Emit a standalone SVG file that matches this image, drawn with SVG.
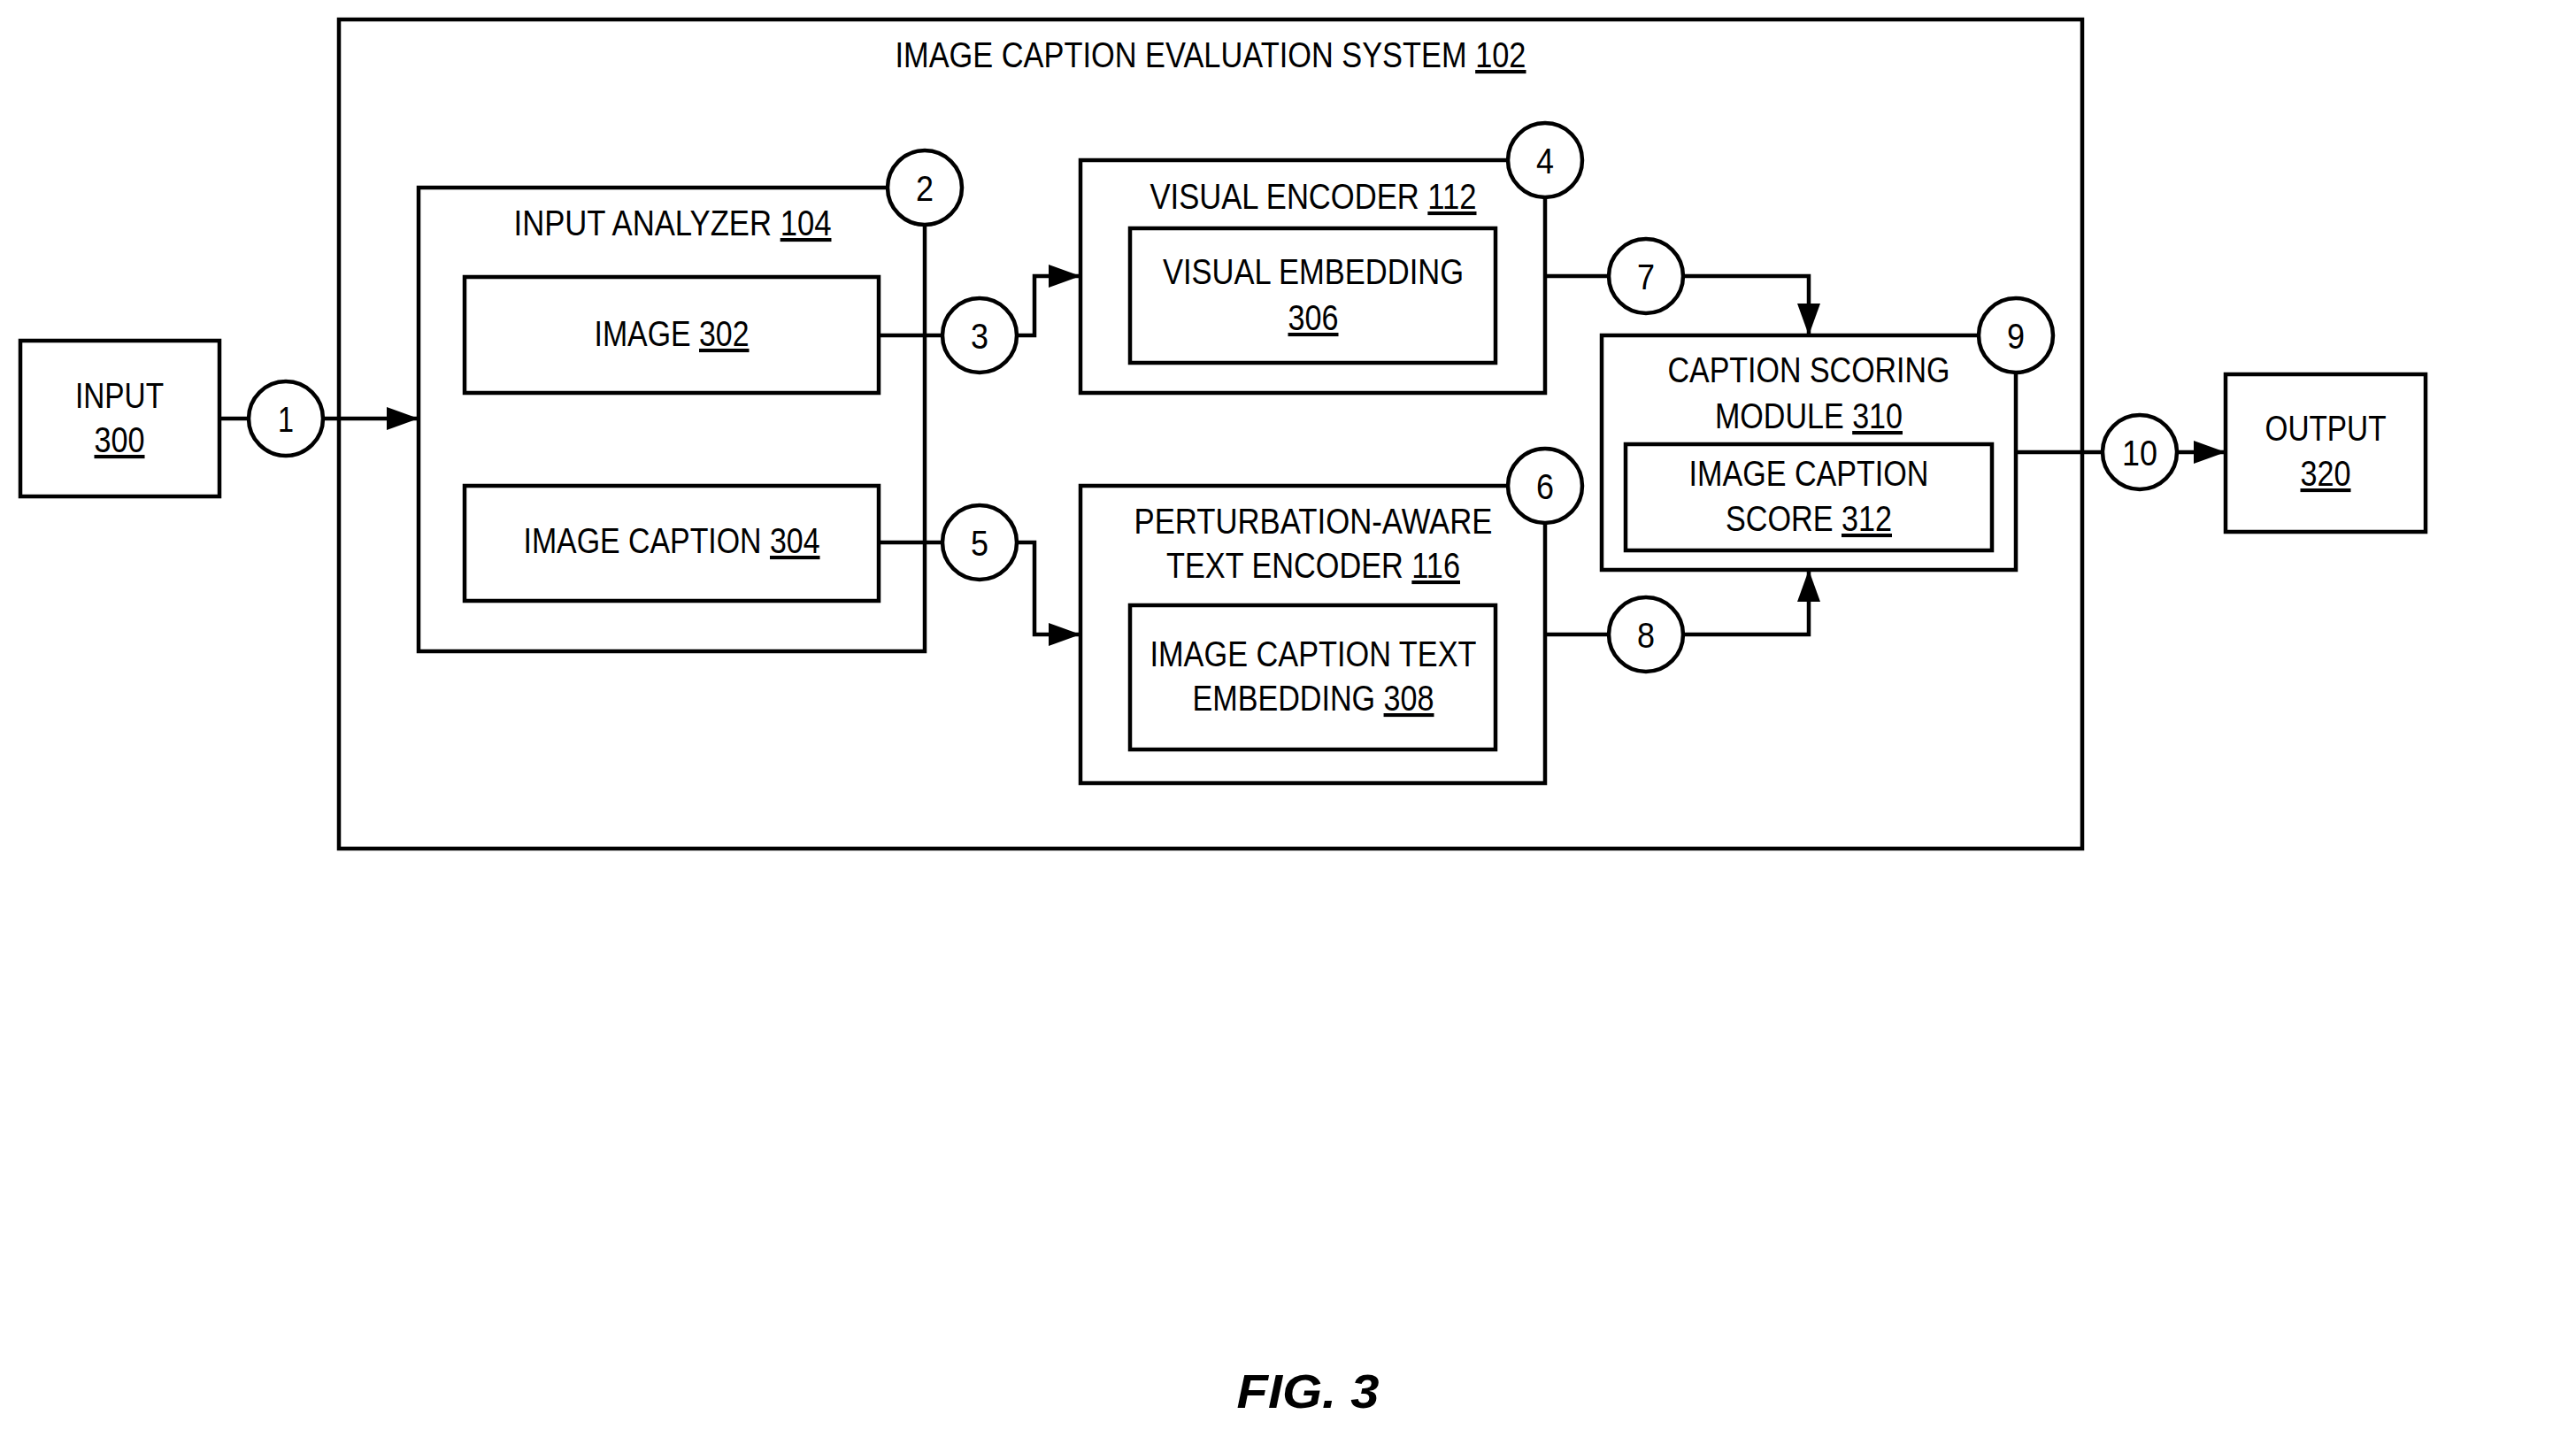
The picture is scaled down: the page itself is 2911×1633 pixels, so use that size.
<svg xmlns="http://www.w3.org/2000/svg" width="2911" height="1633" viewBox="0 0 2911 1633">
<style>
rect,circle{fill:#fff;stroke:#000;stroke-width:4.5}
path{fill:none;stroke:#000;stroke-width:4.5}
text{font-family:"Liberation Sans",Arial,sans-serif;font-size:41px;fill:#000;text-anchor:middle}
.u{text-decoration:underline}
</style>
<defs>
<marker id="ar" markerUnits="userSpaceOnUse" markerWidth="40" markerHeight="30" refX="36" refY="13" orient="auto">
<path d="M0,0 L36,13 L0,26 Z" style="fill:#000;stroke:none"/>
</marker>
</defs>
<g id="system"><rect x="383" y="22" width="1970" height="937"/>
<text x="1368" y="76" textLength="713" lengthAdjust="spacingAndGlyphs">IMAGE CAPTION EVALUATION SYSTEM <tspan class="u">102</tspan></text></g>
<g id="input"><rect x="23" y="385" width="225" height="176"/>
<text x="135" y="461" textLength="100" lengthAdjust="spacingAndGlyphs">INPUT</text>
<text x="135" y="511" textLength="57" lengthAdjust="spacingAndGlyphs" class="u">300</text></g>
<g id="analyzer"><rect x="473" y="212" width="572" height="524"/>
<text x="760" y="266" textLength="359" lengthAdjust="spacingAndGlyphs">INPUT ANALYZER <tspan class="u">104</tspan></text></g>
<g id="image"><rect x="525" y="313" width="468" height="131"/>
<text x="759" y="391" textLength="175" lengthAdjust="spacingAndGlyphs">IMAGE <tspan class="u">302</tspan></text></g>
<g id="caption"><rect x="525" y="549" width="468" height="130"/>
<text x="759" y="625" textLength="335" lengthAdjust="spacingAndGlyphs">IMAGE CAPTION <tspan class="u">304</tspan></text></g>
<g id="visual"><rect x="1221" y="181" width="525" height="263"/>
<text x="1484" y="236" textLength="369" lengthAdjust="spacingAndGlyphs">VISUAL ENCODER <tspan class="u">112</tspan></text></g>
<g id="vemb"><rect x="1277" y="258" width="413" height="152"/>
<text x="1484" y="321" textLength="340" lengthAdjust="spacingAndGlyphs">VISUAL EMBEDDING</text>
<text x="1484" y="373" textLength="57" lengthAdjust="spacingAndGlyphs" class="u">306</text></g>
<g id="textenc"><rect x="1221" y="549" width="525" height="336"/>
<text x="1484" y="603" textLength="405" lengthAdjust="spacingAndGlyphs">PERTURBATION-AWARE</text>
<text x="1484" y="653" textLength="332" lengthAdjust="spacingAndGlyphs">TEXT ENCODER <tspan class="u">116</tspan></text></g>
<g id="temb"><rect x="1277" y="684" width="413" height="163"/>
<text x="1484" y="753" textLength="369" lengthAdjust="spacingAndGlyphs">IMAGE CAPTION TEXT</text>
<text x="1484" y="803" textLength="273" lengthAdjust="spacingAndGlyphs">EMBEDDING <tspan class="u">308</tspan></text></g>
<g id="scoring"><rect x="1810" y="379" width="468" height="265"/>
<text x="2044" y="432" textLength="319" lengthAdjust="spacingAndGlyphs">CAPTION SCORING</text>
<text x="2044" y="484" textLength="212" lengthAdjust="spacingAndGlyphs">MODULE <tspan class="u">310</tspan></text></g>
<g id="score"><rect x="1837" y="502" width="414" height="120"/>
<text x="2044" y="549" textLength="271" lengthAdjust="spacingAndGlyphs">IMAGE CAPTION</text>
<text x="2044" y="600" textLength="188" lengthAdjust="spacingAndGlyphs">SCORE <tspan class="u">312</tspan></text></g>
<g id="output"><rect x="2515" y="423" width="226" height="178"/>
<text x="2628" y="498" textLength="137" lengthAdjust="spacingAndGlyphs">OUTPUT</text>
<text x="2628" y="549" textLength="57" lengthAdjust="spacingAndGlyphs" class="u">320</text></g>
<g id="connectors">
<path d="M248,473 H281"/>
<path d="M365,473 H473" marker-end="url(#ar)"/>
<path d="M993,379 H1065"/>
<path d="M1149,379 H1169 V312 H1221" marker-end="url(#ar)"/>
<path d="M993,613 H1065"/>
<path d="M1149,613 H1169 V717 H1221" marker-end="url(#ar)"/>
<path d="M1746,312 H1818"/>
<path d="M1902,312 H2044 V379" marker-end="url(#ar)"/>
<path d="M1746,717 H1818"/>
<path d="M1902,717 H2044 V644" marker-end="url(#ar)"/>
<path d="M2278,511 H2376"/>
<path d="M2460,511 H2515" marker-end="url(#ar)"/>
</g>
<g id="c1"><circle cx="323" cy="473" r="42"/><text x="323" y="488" textLength="18" lengthAdjust="spacingAndGlyphs">1</text></g>
<g id="c2"><circle cx="1045" cy="212" r="42"/><text x="1045" y="227" textLength="20" lengthAdjust="spacingAndGlyphs">2</text></g>
<g id="c3"><circle cx="1107" cy="379" r="42"/><text x="1107" y="394" textLength="20" lengthAdjust="spacingAndGlyphs">3</text></g>
<g id="c4"><circle cx="1746" cy="181" r="42"/><text x="1746" y="196" textLength="20" lengthAdjust="spacingAndGlyphs">4</text></g>
<g id="c5"><circle cx="1107" cy="613" r="42"/><text x="1107" y="628" textLength="20" lengthAdjust="spacingAndGlyphs">5</text></g>
<g id="c6"><circle cx="1746" cy="549" r="42"/><text x="1746" y="564" textLength="20" lengthAdjust="spacingAndGlyphs">6</text></g>
<g id="c7"><circle cx="1860" cy="312" r="42"/><text x="1860" y="327" textLength="20" lengthAdjust="spacingAndGlyphs">7</text></g>
<g id="c8"><circle cx="1860" cy="717" r="42"/><text x="1860" y="732" textLength="20" lengthAdjust="spacingAndGlyphs">8</text></g>
<g id="c9"><circle cx="2278" cy="379" r="42"/><text x="2278" y="394" textLength="20" lengthAdjust="spacingAndGlyphs">9</text></g>
<g id="c10"><circle cx="2418" cy="511" r="42"/><text x="2418" y="526" textLength="40" lengthAdjust="spacingAndGlyphs">10</text></g>
<text x="1478" y="1591" style="font-size:54px;font-weight:bold;font-style:italic" textLength="161" lengthAdjust="spacingAndGlyphs">FIG. 3</text>
</svg>
